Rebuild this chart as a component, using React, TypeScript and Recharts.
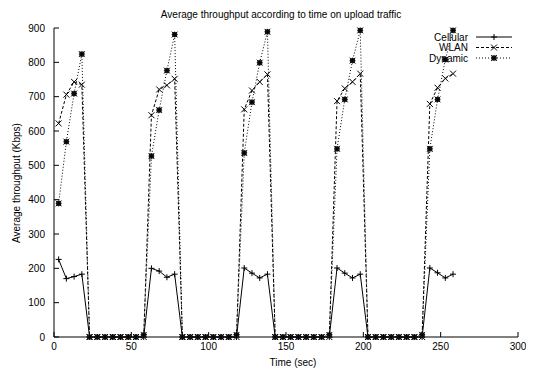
import React from 'react';
import { LineChart, Line, XAxis, YAxis } from 'recharts';

const times = [
  3, 8, 13, 18, 23, 28, 33, 38, 43, 48, 53, 58,
  63, 68, 73, 78, 83, 88, 93, 98, 103, 108, 113, 118,
  123, 128, 133, 138, 143, 148, 153, 158, 163, 168, 173, 178,
  183, 188, 193, 198, 203, 208, 213, 218, 223, 228, 233, 238,
  243, 248, 253, 258,
];
const cellular = [
  226, 170, 176, 183, 0, 0, 0, 0, 0, 0, 0, 0,
  200, 192, 174, 183, 0, 0, 0, 0, 0, 0, 0, 0,
  201, 186, 172, 183, 0, 0, 0, 0, 0, 0, 0, 0,
  201, 186, 172, 183, 0, 0, 0, 0, 0, 0, 0, 0,
  201, 187, 172, 183,
];
const wlan = [
  622, 706, 743, 735, 0, 0, 0, 0, 0, 0, 0, 0,
  646, 721, 733, 752, 0, 0, 0, 0, 0, 0, 0, 0,
  663, 718, 743, 765, 0, 0, 0, 0, 0, 0, 0, 0,
  687, 724, 743, 767, 0, 0, 0, 0, 0, 0, 0, 0,
  679, 726, 753, 767,
];
const dynamic = [
  389, 569, 709, 824, 0, 0, 0, 0, 0, 0, 0, 6,
  527, 661, 776, 881, 0, 0, 0, 0, 0, 0, 0, 6,
  536, 684, 799, 889, 0, 0, 0, 0, 0, 0, 0, 6,
  548, 692, 805, 893, 0, 0, 0, 0, 0, 0, 0, 6,
  548, 692, 808, 893,
];
const xTicks = [0, 50, 100, 150, 200, 250, 300];
const yTicks = [0, 100, 200, 300, 400, 500, 600, 700, 800, 900];
const seriesNames = ['Cellular', 'WLAN', 'Dynamic'];
const titleText = 'Average throughput according to time on upload traffic';
const xTitle = 'Time (sec)';
const yTitle = 'Average throughput (Kbps)';

const data = times.map((t, i) => ({ t, cellular: cellular[i], wlan: wlan[i], dynamic: dynamic[i] }));

const FONT = '"Liberation Sans", Arial, Helvetica, sans-serif';
const W = 526;
const H = 366;
const TICK = 5;

const PlusDot = (p: any) => {
  const { cx, cy } = p;
  if (cx == null || cy == null) return <g key={p.key} />;
  return (
    <path key={p.key} d={`M${cx - 3},${cy}H${cx + 3}M${cx},${cy - 3}V${cy + 3}`} stroke="#000" strokeWidth={1} fill="none" />
  );
};
const CrossDot = (p: any) => {
  const { cx, cy } = p;
  if (cx == null || cy == null) return <g key={p.key} />;
  return (
    <path key={p.key} d={`M${cx - 3},${cy - 3}L${cx + 3},${cy + 3}M${cx - 3},${cy + 3}L${cx + 3},${cy - 3}`} stroke="#000" strokeWidth={1} fill="none" />
  );
};
const StarDot = (p: any) => {
  const { cx, cy } = p;
  if (cx == null || cy == null) return <g key={p.key} />;
  return (
    <g key={p.key}>
      <rect x={cx - 2.5} y={cy - 2.5} width={5} height={5} fill="#222" />
      <path d={`M${cx - 3},${cy}H${cx + 3}M${cx},${cy - 3}V${cy + 3}M${cx - 3},${cy - 3}L${cx + 3},${cy + 3}M${cx - 3},${cy + 3}L${cx + 3},${cy - 3}`} stroke="#000" strokeWidth={0.8} />
    </g>
  );
};

const BottomTick = (p: any) => {
  const { x, y, payload } = p;
  return (
    <g>
      <line x1={x} y1={y} x2={x} y2={y - TICK} stroke="#000" strokeWidth={1} />
      <text x={x} y={y + 13} textAnchor="middle" fontSize={10} fontFamily={FONT} fill="#000">{payload.value}</text>
    </g>
  );
};
const TopTick = (p: any) => {
  const { x, y } = p;
  return <line x1={x} y1={y} x2={x} y2={y + TICK} stroke="#000" strokeWidth={1} />;
};
const LeftTick = (p: any) => {
  const { x, y, payload } = p;
  return (
    <g>
      <line x1={x} y1={y} x2={x + TICK} y2={y} stroke="#000" strokeWidth={1} />
      <text x={x - 9} y={y + 3.5} textAnchor="end" fontSize={10} fontFamily={FONT} fill="#000">{payload.value}</text>
    </g>
  );
};
const RightTick = (p: any) => {
  const { x, y } = p;
  return <line x1={x} y1={y} x2={x - TICK} y2={y} stroke="#000" strokeWidth={1} />;
};

const legendDots = [PlusDot, CrossDot, StarDot];
const legendDash = [undefined, '3 2', '1 2'];

export default function App() {
  return (
    <div style={{ position: 'relative', width: W, height: H }}>
      <LineChart width={W} height={H} data={data} margin={{ top: 20, right: 16, left: 0, bottom: 0 }}>
        <XAxis
          dataKey="t"
          type="number"
          domain={[0, 300]}
          ticks={xTicks}
          height={37}
          tickSize={0}
          tickMargin={0}
          tickLine={false}
          axisLine={{ stroke: '#000' }}
          tick={BottomTick}
          interval={0}
        />
        <XAxis
          xAxisId="top"
          orientation="top"
          dataKey="t"
          type="number"
          domain={[0, 300]}
          ticks={xTicks}
          height={0}
          tickSize={0}
          tickMargin={0}
          tickLine={false}
          axisLine={{ stroke: '#000' }}
          tick={TopTick}
          interval={0}
        />
        <YAxis
          type="number"
          domain={[0, 900]}
          ticks={yTicks}
          width={46}
          tickSize={0}
          tickMargin={0}
          tickLine={false}
          axisLine={{ stroke: '#000' }}
          tick={LeftTick}
          interval={0}
        />
        <YAxis
          yAxisId="right"
          orientation="right"
          type="number"
          domain={[0, 900]}
          ticks={yTicks}
          width={0}
          tickSize={0}
          tickMargin={0}
          tickLine={false}
          axisLine={{ stroke: '#000' }}
          tick={RightTick}
          interval={0}
        />
        <Line dataKey="cellular" name={seriesNames[0]} stroke="#000" strokeWidth={1} dot={PlusDot} isAnimationActive={false} />
        <Line dataKey="wlan" name={seriesNames[1]} stroke="#000" strokeWidth={1} strokeDasharray="3 2" dot={CrossDot} isAnimationActive={false} />
        <Line dataKey="dynamic" name={seriesNames[2]} stroke="#000" strokeWidth={1} strokeDasharray="1 2" dot={StarDot} isAnimationActive={false} />
      </LineChart>
      <svg width={W} height={H} style={{ position: 'absolute', left: 0, top: 0, pointerEvents: 'none' }}>
        <text x={273} y={9.5} textAnchor="middle" fontSize={10} fontFamily={FONT} fill="#000">{titleText}</text>
        <text x={285} y={358} textAnchor="middle" fontSize={10} fontFamily={FONT} fill="#000">{xTitle}</text>
        <text transform="translate(12,175) rotate(-90)" textAnchor="middle" fontSize={10} fontFamily={FONT} fill="#000">{yTitle}</text>
        {seriesNames.map((n, i) => {
          const y = 32.5 + i * 10.5;
          const Dot = legendDots[i];
          return (
            <g key={n}>
              <text x={460} y={y} textAnchor="end" fontSize={10} fontFamily={FONT} fill="#000">{n}</text>
              <line x1={468} y1={y - 3.5} x2={504} y2={y - 3.5} stroke="#000" strokeWidth={1} strokeDasharray={legendDash[i]} />
              {Dot({ cx: 486, cy: y - 3.5, key: 'd' + i })}
            </g>
          );
        })}
      </svg>
    </div>
  );
}
